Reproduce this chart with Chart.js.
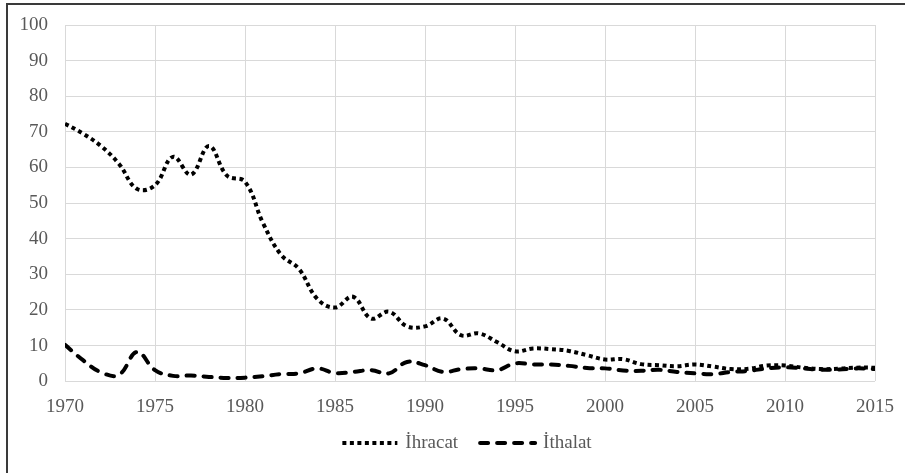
<!DOCTYPE html>
<html lang="tr">
<head>
    <meta charset="UTF-8">
    <title>İhracat / İthalat</title>
    <script src="https://cdn.jsdelivr.net/npm/chart.js"></script>
    <style>
        body { margin: 0; background: #fff; }
        #frame {
            position: absolute; left: 6px; top: 3px; width: 905px; height: 480px;
            border-top: 2px solid #3a3a3a; border-left: 2px solid #3a3a3a;
            pointer-events: none;
        }
        #myChart { position: absolute; left: 0; top: 0; }
    </style>
</head>
<body>
    <canvas id="myChart" width="905" height="473"></canvas>
    <div id="frame"></div>

    <script>
        const years = [];
        for (let y = 1970; y <= 2015; y++) years.push(y);

        const ihracat = [72.3, 69.5, 66, 61, 54, 55, 63, 58, 66, 57.7,
                         56, 44.4, 35.5, 31.5, 23.2, 20.7, 23.7, 17.6, 19.5, 15.4,
                         15.4, 17.6, 12.9, 13.4, 11, 8.4, 9.2, 9, 8.5, 7.3,
                         6.1, 6.2, 4.8, 4.5, 4.2, 4.7, 4.1, 3.4, 3.5, 4.4,
                         4.4, 3.8, 3.4, 3.5, 3.8, 3.8];
        const ithalat = [10.2, 5.9, 2.5, 1.8, 8.2, 3.1, 1.5, 1.6, 1.2, 0.9,
                         1.0, 1.4, 2.0, 2.2, 3.6, 2.3, 2.6, 3.1, 2.2, 5.4,
                         4.5, 2.6, 3.4, 3.6, 3.1, 5.0, 4.7, 4.7, 4.3, 3.7,
                         3.6, 3.0, 2.9, 3.2, 2.6, 2.2, 2.0, 2.6, 2.9, 3.6,
                         3.9, 3.6, 3.2, 3.3, 3.6, 3.4];
        const seriesNames = ['İhracat', 'İthalat'];

        const font = { family: "'Liberation Serif', 'Times New Roman', serif", size: 19 };
        const textColor = '#595959';
        const gridColor = '#d9d9d9';

        const toPoints = vals => vals.map((v, i) => ({ x: years[i], y: v }));

        // Excel-style legend: dashed sample + name, centred under the plot
        const legendPlugin = {
            id: 'sampleLegend',
            afterDraw(chart) {
                const c = chart.ctx;
                const area = chart.chartArea;
                const sample = 55, gapText = 8, gapItem = 22, y = 443;
                c.save();
                c.font = font.size + 'px ' + font.family;
                const items = chart.data.datasets.map(ds => ({ ds, w: c.measureText(ds.label).width }));
                const total = items.reduce((s, it) => s + sample + gapText + it.w, 0) + gapItem * (items.length - 1);
                let x = (area.left + area.right) / 2 - total / 2 - 3;
                items.forEach(({ ds, w }) => {
                    c.strokeStyle = ds.borderColor;
                    c.lineWidth = ds.borderWidth;
                    c.lineCap = ds.borderCapStyle;
                    c.setLineDash(ds.borderDash);
                    c.beginPath();
                    c.moveTo(x, y);
                    c.lineTo(x + sample, y);
                    c.stroke();
                    c.setLineDash([]);
                    c.fillStyle = textColor;
                    c.textBaseline = 'middle';
                    c.fillText(ds.label, x + sample + gapText, y);
                    x += sample + gapText + w + gapItem;
                });
                c.restore();
            }
        };

        const ctx = document.getElementById('myChart').getContext('2d');
        new Chart(ctx, {
            type: 'line',
            data: {
                datasets: [{
                    label: seriesNames[0],
                    data: toPoints(ihracat),
                    borderColor: '#000',
                    borderWidth: 4,
                    borderDash: [4, 3.5],
                    borderCapStyle: 'butt',
                    pointRadius: 0,
                    tension: 0.4
                }, {
                    label: seriesNames[1],
                    data: toPoints(ithalat),
                    borderColor: '#000',
                    borderWidth: 4,
                    borderDash: [8, 9],
                    borderCapStyle: 'round',
                    pointRadius: 0,
                    tension: 0.4
                }]
            },
            plugins: [legendPlugin],
            options: {
                responsive: false,
                animation: false,
                layout: { padding: { top: 25, right: 30, left: 0, bottom: 41 } },
                plugins: {
                    tooltip: { enabled: false },
                    legend: { display: false }
                },
                scales: {
                    x: {
                        type: 'linear',
                        min: 1970,
                        max: 2015,
                        ticks: {
                            stepSize: 5,
                            font: font,
                            color: textColor,
                            padding: 14,
                            maxRotation: 0,
                            callback: v => String(v)
                        },
                        grid: { color: gridColor, drawTicks: false },
                        border: { display: false },
                        afterFit: s => { s.paddingLeft = 0; s.paddingRight = 0; }
                    },
                    y: {
                        min: 0,
                        max: 100,
                        ticks: {
                            stepSize: 10,
                            font: font,
                            color: textColor,
                            padding: 17
                        },
                        grid: { color: gridColor, drawTicks: false },
                        border: { display: false },
                        afterFit: s => { s.width = 65; s.paddingTop = 0; s.paddingBottom = 0; }
                    }
                }
            }
        });
    </script>
</body>
</html>
